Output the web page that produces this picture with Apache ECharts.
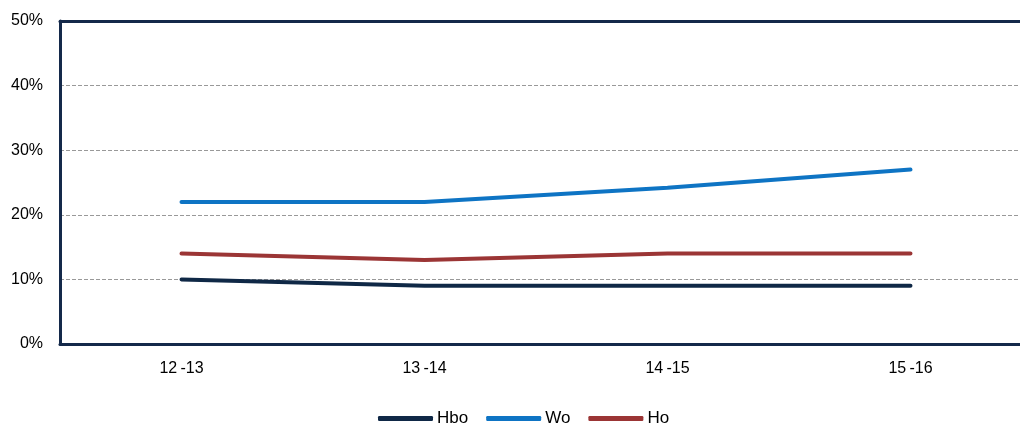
<!DOCTYPE html>
<html><head><meta charset="utf-8">
<script src="https://cdn.jsdelivr.net/npm/echarts@6/dist/echarts.min.js"></script>
<style>html,body{margin:0;padding:0;background:#fff}#c{width:1020px;height:423px}</style>
</head><body><div id="c"></div>
<script>
const categories = ['12-13', '13-14', '14-15', '15-16'];
const hbo = [10, 9, 9, 9];
const wo = [22, 22, 24.2, 27];
const ho = [14, 13, 14, 14];
const yTicks = [0, 10, 20, 30, 40, 50];

const chart = echarts.init(document.getElementById('c'));
const font = 'Liberation Sans';
const axisColor = '#14294a';
function mk(name, data, color) {
  return { name, type: 'line', data, symbol: 'none', lineStyle: { width: 4, color, cap: 'round' }, itemStyle: { color } };
}
chart.setOption({
  animation: false,
  grid: { left: 60, width: 972, top: 21, bottom: 79, outerBoundsMode: 'none', containLabel: false },
  legend: {
    left: 373, top: 405, icon: 'roundRect', itemWidth: 55, itemHeight: 5, itemGap: 18,
    textStyle: { fontFamily: font, fontSize: 17, color: '#000', padding: [0, 0, 0, -1] },
    data: ['Hbo', 'Wo', 'Ho']
  },
  xAxis: [{
    type: 'category', data: categories, boundaryGap: true,
    axisLine: { lineStyle: { color: axisColor, width: 3 } },
    axisTick: { show: false },
    axisLabel: { fontFamily: font, fontSize: 16, color: '#000', margin: 17, formatter: v => v.replace('-', '\u2009-') }
  }, {
    type: 'category', data: categories, position: 'top',
    axisLine: { show: true, lineStyle: { color: axisColor, width: 3 } },
    axisTick: { show: false }, axisLabel: { show: false }
  }],
  yAxis: {
    type: 'value', min: yTicks[0], max: yTicks[yTicks.length - 1], interval: 10,
    axisLine: { show: true, lineStyle: { color: axisColor, width: 3 } },
    axisTick: { show: false },
    axisLabel: { fontFamily: font, fontSize: 16, color: '#000', margin: 17, formatter: v => v + '%' },
    splitLine: { lineStyle: { color: '#999', type: [4, 2], width: 1 } }
  },
  series: [mk('Hbo', hbo, '#0f2846'), mk('Wo', wo, '#0e74c4'), mk('Ho', ho, '#9b3535')]
});
</script></body></html>
